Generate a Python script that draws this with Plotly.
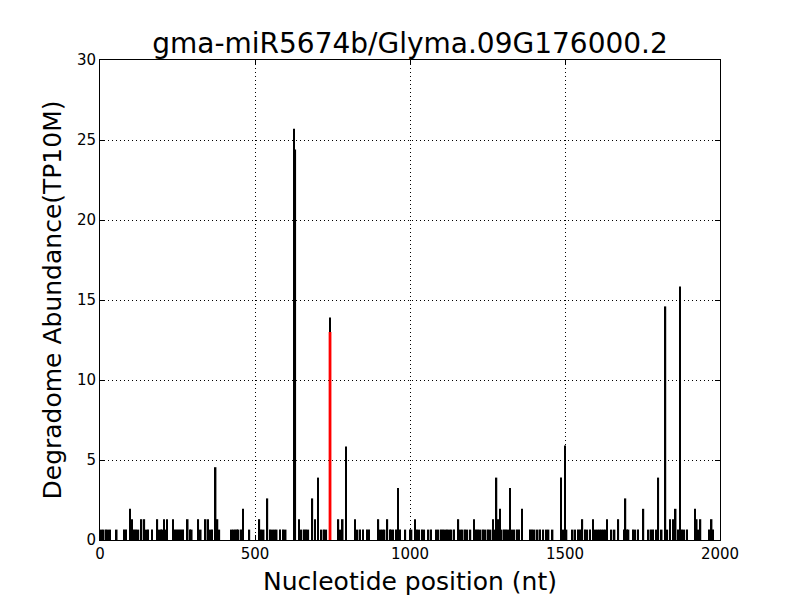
import plotly.graph_objects as go

# Degradome reads along the transcript (position in nt, abundance in TP10M)
positions = [
    5, 12, 19, 27, 33, 54, 78, 84, 97, 103, 109, 116, 124, 134, 143, 150, 155,
    167, 185, 192, 197, 202, 207, 211, 216, 236, 242, 248, 255, 261, 268, 283,
    290, 296, 317, 325, 341, 349, 356, 362, 373, 379, 385, 425, 430, 436, 442,
    447, 455, 462, 482, 514, 520, 528, 540, 549, 556, 563, 570, 580, 590, 599,
    626, 630, 642, 650, 658, 665, 672, 685, 693, 704, 715, 722, 730, 742, 769,
    775, 783, 794, 823, 831, 838, 849, 862, 867, 898, 905, 912, 918, 927, 935,
    940, 946, 955, 962, 968, 985, 1000, 1005, 1016, 1022, 1030, 1038, 1046,
    1060, 1068, 1085, 1092, 1100, 1107, 1114, 1120, 1128, 1134, 1142, 1156,
    1163, 1170, 1177, 1185, 1195, 1206, 1213, 1220, 1228, 1236, 1244, 1252,
    1260, 1267, 1273, 1279, 1284, 1290, 1296, 1303, 1310, 1317, 1323, 1330,
    1337, 1345, 1352, 1362, 1387, 1394, 1402, 1412, 1420, 1430, 1440, 1447,
    1460, 1487, 1495, 1500, 1505, 1525, 1533, 1542, 1549, 1556, 1565, 1572,
    1580, 1591, 1598, 1605, 1612, 1618, 1625, 1630, 1636, 1650, 1660, 1672,
    1690, 1695, 1700, 1705, 1720, 1727, 1735, 1753, 1770, 1777, 1784, 1795,
    1801, 1812, 1824, 1830, 1839, 1848, 1857, 1864, 1871, 1878, 1885, 1893,
    1919, 1925, 1931, 1937, 1965, 1973, 1978,
]
abundance = [
    0.65, 0.65, 0.65, 0.65, 0.65, 0.65, 0.65, 0.65, 1.95, 1.3, 0.65, 0.65, 0.65, 1.3, 1.3, 0.65, 0.65,
    0.65, 1.3, 0.65, 0.65, 0.65, 1.3, 0.65, 1.3, 1.3, 0.65, 0.65, 0.65, 0.65, 0.65, 1.3,
    0.65, 0.65, 1.3, 0.65, 1.3, 1.3, 0.65, 0.65, 4.55, 1.3, 0.65, 0.65, 0.65, 0.65, 0.65,
    0.65, 0.65, 1.95, 0.65, 1.3, 0.65, 0.65, 2.6, 0.65, 0.65, 0.65, 0.65, 0.65, 0.65, 0.65,
    25.7, 24.4, 1.3, 0.65, 0.65, 0.65, 0.65, 2.6, 1.3, 3.9, 0.65, 0.65, 0.65, 13.9, 1.3,
    0.65, 1.3, 5.85, 1.3, 0.65, 0.65, 0.65, 0.65, 0.65, 1.3, 0.65, 0.65, 0.65, 1.3, 0.65,
    0.65, 0.65, 0.65, 3.25, 0.65, 0.65, 0.65, 0.65, 1.3, 0.65, 0.65, 0.65, 0.65,
    0.65, 0.65, 0.65, 0.65, 0.65, 0.65, 0.65, 0.65, 0.65, 0.65, 0.65, 1.3,
    0.65, 0.65, 0.65, 0.65, 0.65, 1.3, 0.65, 0.65, 0.65, 0.65, 0.65, 0.65,
    0.65, 1.3, 0.65, 3.9, 1.3, 1.95, 0.65, 0.65, 0.65, 0.65, 3.25, 0.65,
    0.65, 0.65, 0.65, 1.95, 0.65, 0.65, 0.65, 0.65, 0.65, 0.65, 0.65, 0.65,
    0.65, 3.9, 0.65, 5.9, 0.65, 0.65, 0.65, 0.65, 0.65, 1.3, 0.65, 0.65,
    0.65, 1.3, 0.65, 0.65, 0.65, 0.65, 0.65, 0.65, 1.3, 0.65, 0.65, 1.3,
    0.65, 2.6, 0.65, 0.65, 0.65, 0.65, 0.65, 1.95, 0.65, 0.65, 0.65, 0.65,
    3.9, 0.65, 14.6, 0.65, 1.3, 1.3, 1.95, 0.65, 15.85, 0.65, 0.65, 0.65,
    1.95, 1.3, 0.65, 1.3, 0.65, 1.3, 0.65,
]

# predicted cleavage site
site_pos = [742]
site_val = [13.0]

font = "DejaVu Sans"

fig = go.Figure()
fig.add_trace(go.Bar(
    x=positions, y=abundance, width=5,
    marker=dict(color='black', line=dict(width=0)),
    showlegend=False
))
fig.add_trace(go.Bar(
    x=site_pos, y=site_val, width=9,
    marker=dict(color='red', line=dict(width=0)),
    showlegend=False
))

axis_common = dict(
    showline=True, linecolor='black', linewidth=1, mirror='ticks',
    ticks='inside', ticklen=5, tickcolor='black',
    showgrid=True, gridcolor='black', gridwidth=1, griddash='1px,3px',
    zeroline=False, automargin=False,
    tickfont=dict(family=font, size=15, color='black'),
)

fig.update_layout(
    width=800, height=600,
    margin=dict(l=100, r=80, t=60, b=60),
    paper_bgcolor='white', plot_bgcolor='white',
    barmode='overlay',
    title=dict(text='gma-miR5674b/Glyma.09G176000.2', x=0.5125, xanchor='center',
               y=1 - 43 / 600, yanchor='middle', automargin=False,
               font=dict(family=font, size=28, color='black')),
    xaxis=dict(range=[0, 2000], tickvals=[0, 500, 1000, 1500, 2000],
               title=dict(text='Nucleotide position (nt)', standoff=10,
                          font=dict(family=font, size=25, color='black')),
               **axis_common),
    yaxis=dict(range=[0, 30], tickvals=[0, 5, 10, 15, 20, 25, 30],
               title=dict(text='Degradome Abundance(TP10M)', standoff=8,
                          font=dict(family=font, size=25, color='black')),
               **axis_common),
)

# drop the default page margin so the figure sits at the window's corner
fig.write_html("out.html", config={'displayModeBar': False},
               post_script="document.body.style.margin='0';")
